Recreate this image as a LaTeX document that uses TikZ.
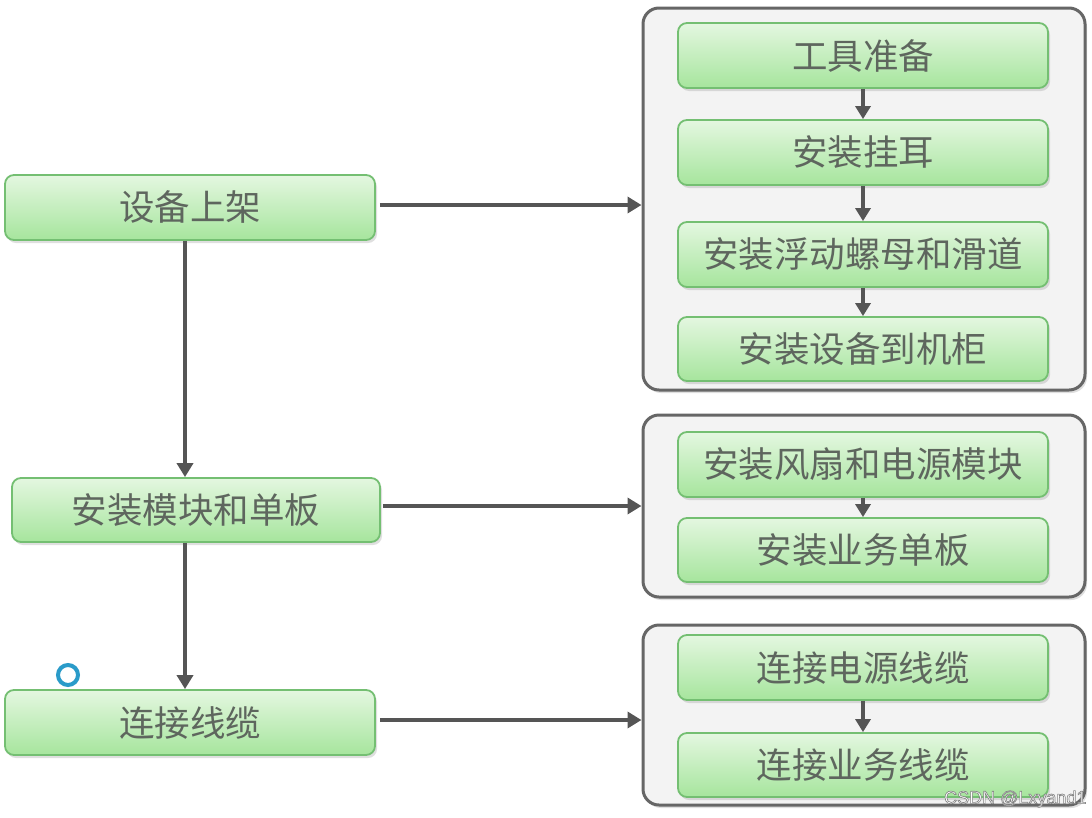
\documentclass[tikz,border=0pt]{standalone}
\usepackage{fontspec}
\setmainfont{Noto Sans CJK SC}
\newfontfamily\wmfont{Liberation Sans}
\usetikzlibrary{arrows.meta,shadows}
\definecolor{txt}{HTML}{5E665E}
\definecolor{gborder}{HTML}{74BF72}
\definecolor{gtop}{HTML}{E4F7E0}
\definecolor{gbot}{HTML}{A6E59D}
\definecolor{arr}{HTML}{555555}
\definecolor{grpfill}{HTML}{F3F3F3}
\definecolor{grpline}{HTML}{666666}
\tikzset{
  gbox/.style={draw=gborder, line width=1.8pt, rounded corners=9pt,
    top color=gtop, bottom color=gbot, text=txt, font=\fontsize{35.5}{38}\selectfont,
    inner sep=0pt, anchor=center,
    drop shadow={shadow xshift=2pt, shadow yshift=-3pt, opacity=0.25}},
  grp/.style={draw=grpline, line width=3pt, rounded corners=16pt, fill=grpfill,
    drop shadow={shadow xshift=2pt, shadow yshift=-3pt, opacity=0.25}},
  arrow/.style={draw=arr, line width=4pt, -{Triangle[width=16pt,length=14pt]}},
  sarrow/.style={draw=arr, line width=4pt, -{Triangle[width=15pt,length=13pt]}},
}
\begin{document}
\begin{tikzpicture}[x=1pt,y=-1pt]
\useasboundingbox (0,0) rectangle (1092,817);
\fill[white] (0,0) rectangle (1092,817);
% groups
\node[grp, minimum width=442pt, minimum height=382pt] (g1) at (864,199) {};
\node[grp, minimum width=442pt, minimum height=182pt] (g2) at (864,506) {};
\node[grp, minimum width=442pt, minimum height=180pt] (g3) at (864,715) {};
% left boxes
\node[gbox, minimum width=370pt, minimum height=65pt] (L1) at (190,207.5) {设备上架};
\node[gbox, minimum width=368pt, minimum height=64pt] (L2) at (196,510) {安装模块和单板};
\node[gbox, minimum width=370pt, minimum height=65pt] (L3) at (190,722.5) {连接线缆};
% right boxes
\node[gbox, minimum width=370pt, minimum height=65pt] (a1) at (863,55.5) {工具准备};
\node[gbox, minimum width=370pt, minimum height=65pt] (a2) at (863,152.5) {安装挂耳};
\node[gbox, minimum width=370pt, minimum height=65pt] (a3) at (863,254.5) {安装浮动螺母和滑道};
\node[gbox, minimum width=370pt, minimum height=64pt] (a4) at (863,349) {安装设备到机柜};
\node[gbox, minimum width=370pt, minimum height=65pt] (b1) at (863,464.5) {安装风扇和电源模块};
\node[gbox, minimum width=370pt, minimum height=64pt] (b2) at (863,550) {安装业务单板};
\node[gbox, minimum width=370pt, minimum height=65pt] (c1) at (863,667.5) {连接电源线缆};
\node[gbox, minimum width=370pt, minimum height=64pt] (c2) at (863,765) {连接业务线缆};
% inner arrows
\draw[sarrow] (a1.south) -- (a2.north);
\draw[sarrow] (a2.south) -- (a3.north);
\draw[sarrow] (a3.south) -- (a4.north);
\draw[sarrow] (b1.south) -- (b2.north);
\draw[sarrow] (c1.south) -- (c2.north);
% left vertical arrows
\draw[arrow] (L1.south -| 185,0) -- (L2.north -| 185,0);
\draw[arrow] (L2.south -| 185,0) -- (L3.north -| 185,0);
% horizontal arrows
\draw[arrow] ([xshift=4pt]L1.east |- 0,205) -- (g1.west |- 0,205);
\draw[arrow] ([xshift=2pt]L2.east |- 0,506) -- (g2.west |- 0,506);
\draw[arrow] ([xshift=4pt]L3.east |- 0,720) -- (g3.west |- 0,720);
% small ring
\node[circle, draw=cyan!60!teal, fill=white, line width=4pt, minimum size=20pt, inner sep=0pt,
  drop shadow={shadow xshift=1pt, shadow yshift=-1pt, opacity=0.3}] (ring) at (68,675) {};
% watermark
\node[anchor=east, text=white, font=\wmfont\fontsize{18}{20}\selectfont,
  draw=none] (wm) at (1090,799) {\pgfsetstrokecolor{gray}\special{pdf:literal 2 Tr 0.6 w}CSDN @Lxyand1\special{pdf:literal 0 Tr}};
\end{tikzpicture}
\end{document}
